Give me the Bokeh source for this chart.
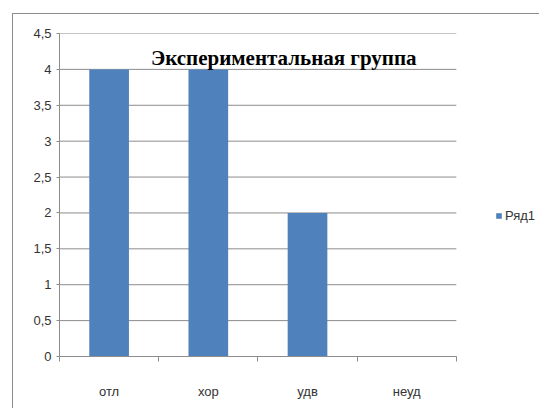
from bokeh.plotting import figure
from bokeh.models import (Range1d, FixedTicker, LinearAxis, Label,
                          Legend, LegendItem)
from bokeh.embed import file_html
from bokeh.resources import INLINE

# Grades and how many students got each
categories = ["отл", "хор", "удв", "неуд"]
counts = [4, 4, 2, 0]
series_name = "Ряд1"
title_text = "Экспериментальная группа"

y_ticks = [0, 0.5, 1, 1.5, 2, 2.5, 3, 3.5, 4, 4.5]
y_tick_labels = ["0", "0,5", "1", "1,5", "2", "2,5", "3", "3,5", "4", "4,5"]

BAR = "#4F81BD"
GRID = "#8c8c8c"
TEXT = "#333333"
FONT = "Liberation Sans"

# one slot per grade, bars in the middle of each slot
n = len(categories)
x_centers = [i + 0.5 for i in range(n)]
x_bounds = list(range(n + 1))

# the frame also holds the legend strip to the right of the plot area
PLOT_W, LEGEND_W = 396, 84
x_end = n * (PLOT_W + LEGEND_W) / PLOT_W

p = figure(width=527, height=395,
           x_range=Range1d(0, x_end), y_range=Range1d(0, y_ticks[-1]),
           x_axis_type=None, y_axis_type=None,
           output_backend="svg", toolbar_location=None,
           min_border_left=46, min_border_right=0,
           min_border_top=19, min_border_bottom=53)
p.outline_line_color = None
p.background_fill_color = "white"
p.border_fill_color = "white"
# chart-area frame (its right and bottom edges run past the page)
p.margin = (13, 0, 0, 12)
p.styles = {"border-left": f"1px solid {GRID}", "border-top": f"1px solid {GRID}"}

# category axis: labels in slot centers, tick marks on slot boundaries
xaxis = LinearAxis(
    ticker=FixedTicker(ticks=x_centers, minor_ticks=x_bounds),
    major_label_overrides={x: c for x, c in zip(x_centers, categories)},
    bounds=(0, n),
    major_tick_line_color=None, major_tick_out=0, major_tick_in=0,
    minor_tick_line_color=GRID, minor_tick_out=5, minor_tick_in=0,
    axis_line_color=GRID,
    major_label_standoff=22,
    major_label_text_font=FONT, major_label_text_font_size="13px",
    major_label_text_color=TEXT,
)
p.add_layout(xaxis, "below")

yaxis = LinearAxis(
    ticker=FixedTicker(ticks=y_ticks),
    major_label_overrides=dict(zip(y_ticks, y_tick_labels)),
    major_tick_line_color=GRID, major_tick_out=3, major_tick_in=0,
    minor_tick_line_color=None,
    axis_line_color=GRID,
    major_label_standoff=5,
    major_label_text_font=FONT, major_label_text_font_size="13px",
    major_label_text_color=TEXT,
)
p.add_layout(yaxis, "left")

# horizontal gridlines across the plot area only
p.segment(x0=0, x1=n, y0=y_ticks, y1=y_ticks, line_color=GRID, line_width=1)

bars = p.vbar(x=x_centers, top=counts, width=0.4,
              fill_color=BAR, line_color=None)

p.add_layout(Label(x=2.26, y=4.163, text=title_text,
                   text_font="Liberation Serif", text_font_style="bold",
                   text_font_size="21px", text_color="black",
                   text_align="center", text_baseline="alphabetic"))

legend = Legend(items=[LegendItem(label=series_name, renderers=[bars])],
                location=(436, 133),
                glyph_width=7, glyph_height=7, label_standoff=3,
                label_height=14, padding=0, margin=0, spacing=0,
                border_line_color=None, background_fill_alpha=0,
                label_text_font=FONT, label_text_font_size="13px",
                label_text_color=TEXT)
p.add_layout(legend, "center")

open("out.html", "w").write(file_html(p, INLINE))
